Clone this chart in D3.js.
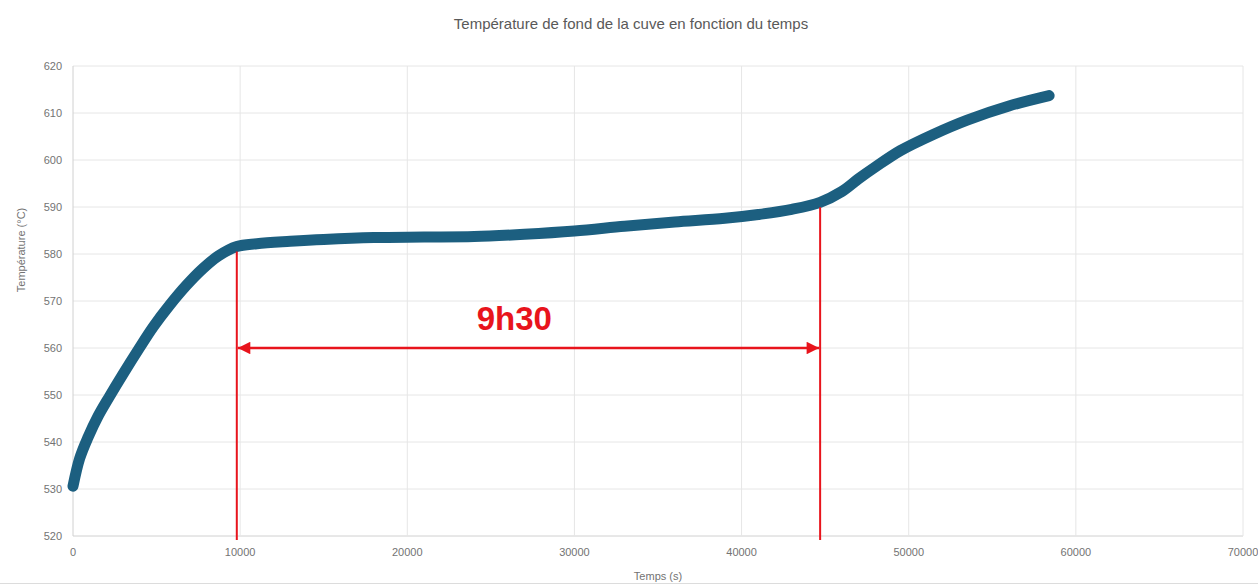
<!DOCTYPE html>
<html>
<head>
<meta charset="utf-8">
<script src="https://cdn.jsdelivr.net/npm/d3@7"></script>
<style>
  body { margin: 0; background: #fff; }
  svg { display: block; font-family: "Liberation Sans", Arial, sans-serif; }
</style>
</head>
<body>
<div id="chart"></div>
<script>
// temps (s) et température (°C)
const temps = [0, 400, 900, 1500, 2200, 3000, 3900, 4800, 5800, 6800, 7800, 8700, 9800,
  11000, 13000, 15000, 18000, 21000, 24000, 27000, 30000, 33000, 36000, 39000, 41000,
  43000, 44700, 46000, 47000, 48000, 49500, 51500, 53500, 56000, 58400];
const temperature = [530.6, 536.5, 541, 545.5, 549.8, 554.5, 559.6, 564.5, 569.2, 573.4, 577, 579.6, 581.6,
  582.2, 582.7, 583.1, 583.5, 583.6, 583.7, 584.2, 584.9, 585.9, 586.8, 587.6, 588.4,
  589.5, 591, 593.3, 596, 598.5, 602, 605.5, 608.5, 611.5, 613.7];

const xTicks = [0, 10000, 20000, 30000, 40000, 50000, 60000, 70000];
const yTicks = [520, 530, 540, 550, 560, 570, 580, 590, 600, 610, 620];

// annotation : début / fin du palier
const palierTemps = [9800, 44700];
const palierTemp = [581.6, 591];
const flecheTemp = 560;
const palierLabel = "9h30";

const W = 1258, H = 585;
const margin = { top: 66, right: 15, bottom: 49, left: 73 };
const width = W - margin.left - margin.right;
const height = H - margin.top - margin.bottom;

const root = d3.select("#chart").append("svg")
  .attr("width", W)
  .attr("height", H);

const svg = root.append("g")
  .attr("transform", `translate(${margin.left},${margin.top})`);

const x = d3.scaleLinear().domain([0, 70000]).range([0, width]);
const y = d3.scaleLinear().domain([520, 620]).range([height, 0]);

// grille
svg.append("g")
  .selectAll("line")
  .data(yTicks)
  .join("line")
  .attr("x1", 0).attr("x2", width)
  .attr("y1", d => y(d)).attr("y2", d => y(d))
  .attr("stroke", d => d === 520 ? "#d0d0d0" : "#e6e6e6");

svg.append("g")
  .selectAll("line")
  .data(xTicks)
  .join("line")
  .attr("x1", d => x(d)).attr("x2", d => x(d))
  .attr("y1", 0).attr("y2", height)
  .attr("stroke", d => d === 0 ? "#d0d0d0" : "#e6e6e6");

// étiquettes des axes
svg.append("g")
  .selectAll("text")
  .data(yTicks)
  .join("text")
  .attr("x", -11)
  .attr("y", d => y(d))
  .attr("dy", "0.35em")
  .attr("text-anchor", "end")
  .attr("font-size", 11)
  .attr("fill", "#737373")
  .text(d => d);

svg.append("g")
  .selectAll("text")
  .data(xTicks)
  .join("text")
  .attr("x", d => x(d))
  .attr("y", height + 20)
  .attr("text-anchor", "middle")
  .attr("font-size", 11)
  .attr("fill", "#737373")
  .text(d => d);

// courbe
const points = temps.map((t, i) => ({ t, v: temperature[i] }));
svg.append("path")
  .datum(points)
  .attr("fill", "none")
  .attr("stroke", "#1c5f80")
  .attr("stroke-width", 11)
  .attr("stroke-linecap", "round")
  .attr("stroke-linejoin", "round")
  .attr("d", d3.line().x(d => x(d.t)).y(d => y(d.v)).curve(d3.curveCatmullRom));

// annotation rouge
const rouge = "#e8141c";
root.append("defs").selectAll("marker")
  .data(["debut", "fin"])
  .join("marker")
  .attr("id", d => "fl-" + d)
  .attr("viewBox", "0 0 10 10")
  .attr("refX", d => d === "fin" ? 10 : 0)
  .attr("refY", 5)
  .attr("markerWidth", 6)
  .attr("markerHeight", 5)
  .attr("markerUnits", "strokeWidth")
  .attr("orient", "auto")
  .append("path")
  .attr("d", d => d === "fin" ? "M0,0L10,5L0,10z" : "M10,0L0,5L10,10z")
  .attr("fill", rouge);

svg.append("g")
  .selectAll("line")
  .data(palierTemps)
  .join("line")
  .attr("x1", d => x(d)).attr("x2", d => x(d))
  .attr("y1", (d, i) => y(palierTemp[i]) + 5)
  .attr("y2", height + 4)
  .attr("stroke", rouge)
  .attr("stroke-width", 2);

svg.append("line")
  .attr("x1", x(palierTemps[0]) + 1)
  .attr("x2", x(palierTemps[1]) - 1)
  .attr("y1", y(flecheTemp)).attr("y2", y(flecheTemp))
  .attr("stroke", rouge)
  .attr("stroke-width", 2.5)
  .attr("marker-start", "url(#fl-debut)")
  .attr("marker-end", "url(#fl-fin)");

svg.append("text")
  .attr("x", x(26400))
  .attr("y", y(flecheTemp) - 18)
  .attr("text-anchor", "middle")
  .attr("font-family", "'Liberation Sans Narrow', 'Liberation Sans', Arial, sans-serif")
  .attr("font-size", 33)
  .attr("font-weight", "bold")
  .attr("fill", rouge)
  .text(palierLabel);

// titres
root.append("text")
  .attr("x", 631)
  .attr("y", 29)
  .attr("text-anchor", "middle")
  .attr("font-size", 15)
  .attr("fill", "#595959")
  .text("Température de fond de la cuve en fonction du temps");

root.append("text")
  .attr("x", 658)
  .attr("y", 580)
  .attr("text-anchor", "middle")
  .attr("font-size", 11)
  .attr("fill", "#737373")
  .text("Temps (s)");

root.append("text")
  .attr("transform", "translate(25,250) rotate(-90)")
  .attr("text-anchor", "middle")
  .attr("font-size", 11)
  .attr("fill", "#737373")
  .text("Température (°C)");

root.append("line")
  .attr("x1", 0).attr("x2", W)
  .attr("y1", 583.5).attr("y2", 583.5)
  .attr("stroke", "#dcdcdc");
</script>
</body>
</html>
